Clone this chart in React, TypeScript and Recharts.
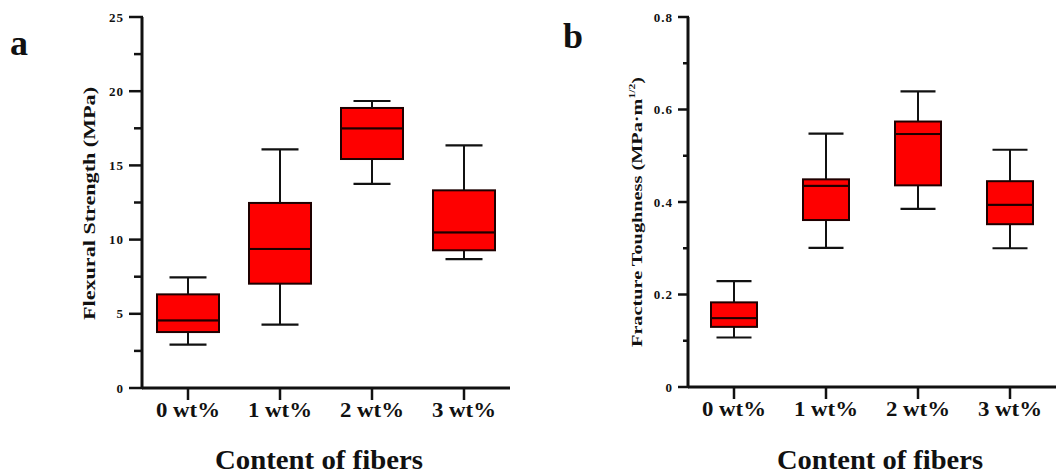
import React from 'react';
import { ComposedChart, Bar, XAxis, YAxis } from 'recharts';

// ---------- data ----------
const categories = ['0 wt%', '1 wt%', '2 wt%', '3 wt%'];

// Flexural strength (MPa): min, Q1, median, Q3, max
const flexMin = [2.92, 4.27, 13.75, 8.69];
const flexQ1 = [3.77, 7.03, 15.43, 9.28];
const flexMed = [4.56, 9.37, 17.5, 10.49];
const flexQ3 = [6.31, 12.47, 18.87, 13.32];
const flexMax = [7.46, 16.08, 19.34, 16.35];

// Fracture toughness (MPa·m^1/2): min, Q1, median, Q3, max
const toughMin = [0.107, 0.301, 0.385, 0.3];
const toughQ1 = [0.13, 0.361, 0.436, 0.352];
const toughMed = [0.149, 0.435, 0.547, 0.394];
const toughQ3 = [0.183, 0.449, 0.574, 0.445];
const toughMax = [0.229, 0.548, 0.639, 0.513];

const flexTicks = [0, 2.5, 5, 7.5, 10, 12.5, 15, 17.5, 20, 22.5, 25];
const flexLabeled = [0, 5, 10, 15, 20, 25];
const toughTicks = [0, 0.1, 0.2, 0.3, 0.4, 0.5, 0.6, 0.7, 0.8];
const toughLabeled = [0, 0.2, 0.4, 0.6, 0.8];

// ---------- styles ----------
const FONT = "'Liberation Serif', 'Times New Roman', Times, serif";
const INK = '#111111';
const FILL = '#fe0000';
const EDGE = '#1e0000';

function buildRows(min: number[], q1: number[], med: number[], q3: number[], max: number[]) {
  return categories.map((c, i) => ({
    cat: c,
    base: min[i],
    lw: q1[i] - min[i],
    lb: med[i] - q1[i],
    ub: q3[i] - med[i],
    uw: max[i] - q3[i],
  }));
}

const flexRows = buildRows(flexMin, flexQ1, flexMed, flexQ3, flexMax);
const toughRows = buildRows(toughMin, toughQ1, toughMed, toughQ3, toughMax);

const emptyShape = () => <g />;

const lowerWhisker = (cap: number) => (p: any) => {
  const { x, y, width, height } = p;
  const cx = x + width / 2;
  const yb = y + height;
  return (
    <g>
      <line x1={cx} x2={cx} y1={y} y2={yb} stroke={INK} strokeWidth={2} />
      <line x1={cx - cap / 2} x2={cx + cap / 2} y1={yb} y2={yb} stroke={INK} strokeWidth={2.2} />
    </g>
  );
};

const upperWhisker = (cap: number) => (p: any) => {
  const { x, y, width, height } = p;
  const cx = x + width / 2;
  return (
    <g>
      <line x1={cx} x2={cx} y1={y} y2={y + height} stroke={INK} strokeWidth={2} />
      <line x1={cx - cap / 2} x2={cx + cap / 2} y1={y} y2={y} stroke={INK} strokeWidth={2.2} />
    </g>
  );
};

const boxShape = (p: any) => {
  const { x, y, width, height } = p;
  return <rect x={x} y={y} width={width} height={height} fill={FILL} stroke={EDGE} strokeWidth={2} />;
};

function makeYTick(o: {
  tickSize: number;
  tickMargin: number;
  majorLen: number;
  minorLen: number;
  labeled: number[];
  fmt: (v: number) => string;
  fontSize: number;
}) {
  return (props: any) => {
    const { x, y, payload } = props;
    const v = payload.value as number;
    const axisX = x + o.tickSize + o.tickMargin;
    const isMajor = o.labeled.some((l) => Math.abs(l - v) < 1e-9);
    const len = isMajor ? o.majorLen : o.minorLen;
    return (
      <g>
        <line x1={axisX - len} x2={axisX + 1} y1={y} y2={y} stroke={INK} strokeWidth={2.5} />
        {isMajor && (
          <text
            x={x}
            y={y}
            dy="0.35em"
            textAnchor="end"
            fontFamily={FONT}
            fontWeight="bold"
            fontSize={o.fontSize}
            letterSpacing={1}
            fill={INK}
          >
            {o.fmt(v)}
          </text>
        )}
      </g>
    );
  };
}

const XTick = (props: any) => {
  const { x, y, payload } = props;
  return (
    <text
      x={x}
      y={y}
      dy={13}
      textAnchor="middle"
      fontFamily={FONT}
      fontWeight="bold"
      fontSize={20}
      textLength={64}
      lengthAdjust="spacingAndGlyphs"
      fill={INK}
    >
      {payload.value}
    </text>
  );
};

const leftYTick = makeYTick({
  tickSize: 13,
  tickMargin: 5,
  majorLen: 13,
  minorLen: 8,
  labeled: flexLabeled,
  fmt: (v) => String(v),
  fontSize: 13,
});

const rightYTick = makeYTick({
  tickSize: 10,
  tickMargin: 5,
  majorLen: 10,
  minorLen: 5,
  labeled: toughLabeled,
  fmt: (v) => (v === 0 ? '0' : v.toFixed(1)),
  fontSize: 13,
});

function BoxChart(props: {
  rows: any[];
  domain: [number, number];
  ticks: number[];
  yTick: any;
  tickSize: number;
  margin: { top: number; right: number; bottom: number; left: number };
  barSize: number;
  cap: number;
}) {
  const { rows, domain, ticks, yTick, tickSize, margin, barSize, cap } = props;
  return (
    <ComposedChart width={530} height={475} data={rows} margin={margin} barSize={barSize}>
      <XAxis
        dataKey="cat"
        type="category"
        interval={0}
        height={30}
        axisLine={{ stroke: INK, strokeWidth: 3 }}
        tickLine={{ stroke: INK, strokeWidth: 2.5 }}
        tickSize={12}
        tickMargin={4}
        tick={<XTick />}
      />
      <YAxis
        type="number"
        domain={domain}
        ticks={ticks}
        interval={0}
        width={60}
        axisLine={{ stroke: INK, strokeWidth: 3 }}
        tickLine={false}
        tickSize={tickSize}
        tickMargin={5}
        tick={yTick}
        allowDataOverflow
      />
      <Bar dataKey="base" stackId="s" shape={emptyShape} isAnimationActive={false} />
      <Bar dataKey="lw" stackId="s" shape={lowerWhisker(cap)} isAnimationActive={false} />
      <Bar dataKey="lb" stackId="s" shape={boxShape} isAnimationActive={false} />
      <Bar dataKey="ub" stackId="s" shape={boxShape} isAnimationActive={false} />
      <Bar dataKey="uw" stackId="s" shape={upperWhisker(cap)} isAnimationActive={false} />
    </ComposedChart>
  );
}

export default function App() {
  const titleStyle = {
    fontFamily: FONT,
    fontWeight: 'bold' as const,
    fill: INK,
  };
  return (
    <div style={{ position: 'absolute', left: 0, top: 0, width: 1059, height: 475, background: '#fff', overflow: 'hidden' }}>
      <div style={{ position: 'absolute', left: 0, top: 0 }}>
        <BoxChart
          rows={flexRows}
          domain={[0, 25]}
          ticks={flexTicks}
          yTick={leftYTick}
          tickSize={13}
          margin={{ top: 17, right: 20, bottom: 57, left: 82 }}
          barSize={62}
          cap={37}
        />
      </div>
      <div style={{ position: 'absolute', left: 530, top: 0 }}>
        <BoxChart
          rows={toughRows}
          domain={[0, 0.8]}
          ticks={toughTicks}
          yTick={rightYTick}
          tickSize={10}
          margin={{ top: 17, right: 4, bottom: 58, left: 98 }}
          barSize={46}
          cap={35}
        />
      </div>
      <svg width={1059} height={475} style={{ position: 'absolute', left: 0, top: 0, pointerEvents: 'none' }}>
        <text x={10} y={55} fontSize={36} {...titleStyle}>a</text>
        <text x={563} y={48} fontSize={36} {...titleStyle}>b</text>
        <text
          x={89}
          y={203.5}
          transform="rotate(-90, 89, 203.5)"
          textAnchor="middle"
          dominantBaseline="central"
          fontSize={16}
          textLength={233}
          lengthAdjust="spacingAndGlyphs"
          {...titleStyle}
        >
          Flexural Strength (MPa)
        </text>
        <text
          x={637}
          y={212}
          transform="rotate(-90, 637, 212)"
          textAnchor="middle"
          dominantBaseline="central"
          fontSize={14}
          textLength={270}
          lengthAdjust="spacingAndGlyphs"
          {...titleStyle}
        >
          Fracture Toughness (MPa·m
          <tspan fontSize={8} dy={-5}>1/2</tspan>
          <tspan dy={5}>)</tspan>
        </text>
        <text x={319} y={469} textAnchor="middle" fontSize={28} textLength={208} lengthAdjust="spacingAndGlyphs" {...titleStyle}>
          Content  of fibers
        </text>
        <text x={880} y={469} textAnchor="middle" fontSize={28} textLength={206} lengthAdjust="spacingAndGlyphs" {...titleStyle}>
          Content  of fibers
        </text>
      </svg>
    </div>
  );
}
